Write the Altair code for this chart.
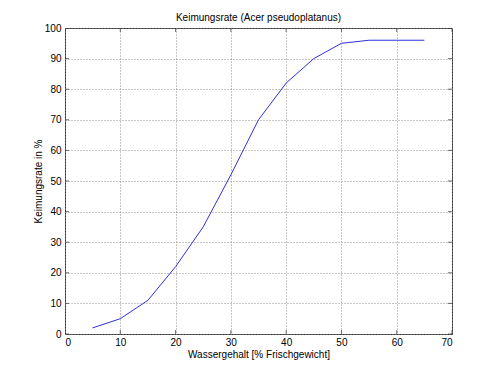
import altair as alt
import pandas as pd

wasser = [5, 10, 15, 20, 25, 30, 35, 40, 45, 50, 55, 60, 65]
keimung = [2, 5, 11, 22, 35, 52, 70, 82, 90, 95, 96, 96, 96]
x_ticks = [0, 10, 20, 30, 40, 50, 60, 70]
y_ticks = [0, 10, 20, 30, 40, 50, 60, 70, 80, 90, 100]

df = pd.DataFrame({"x": wasser, "y": keimung})
xt = pd.DataFrame({"x": x_ticks})
yt = pd.DataFrame({"y": y_ticks})

FONT = "Liberation Sans"
W, H = 387, 306

xscale = alt.Scale(domain=[0, 70], nice=False)
yscale = alt.Scale(domain=[0, 100], nice=False)

xaxis = alt.Axis(values=x_ticks, title="Wassergehalt [% Frischgewicht]",
                 grid=True, gridDash=[1, 2], gridColor="#8c8c8c", gridOpacity=1,
                 domain=False, ticks=False, labelPadding=3, titlePadding=2,
                 labelFont=FONT, titleFont=FONT, labelFontSize=10, titleFontSize=10,
                 titleFontWeight="normal", labelColor="#000", titleColor="#000")
yaxis = alt.Axis(values=y_ticks, title="Keimungsrate in %",
                 grid=True, gridDash=[1, 2], gridColor="#8c8c8c", gridOpacity=1,
                 domain=False, ticks=False, labelPadding=4, titlePadding=1,
                 labelFont=FONT, titleFont=FONT, labelFontSize=10, titleFontSize=10,
                 titleFontWeight="normal", labelColor="#000", titleColor="#000")

line = alt.Chart(df).mark_line(color="#3030e0", strokeWidth=1, clip=True).encode(
    x=alt.X("x:Q", scale=xscale, axis=xaxis),
    y=alt.Y("y:Q", scale=yscale, axis=yaxis),
)

tick_color = "#333333"
xt_bottom = alt.Chart(xt).mark_tick(orient="vertical", size=8, thickness=1, color=tick_color, clip=True).encode(
    x=alt.X("x:Q", scale=xscale, axis=xaxis), y=alt.value(H))
xt_top = alt.Chart(xt).mark_tick(orient="vertical", size=8, thickness=1, color=tick_color, clip=True).encode(
    x=alt.X("x:Q", scale=xscale, axis=xaxis), y=alt.value(0))
yt_left = alt.Chart(yt).mark_tick(orient="horizontal", size=8, thickness=1, color=tick_color, clip=True).encode(
    y=alt.Y("y:Q", scale=yscale, axis=yaxis), x=alt.value(0))
yt_right = alt.Chart(yt).mark_tick(orient="horizontal", size=8, thickness=1, color=tick_color, clip=True).encode(
    y=alt.Y("y:Q", scale=yscale, axis=yaxis), x=alt.value(W))

chart = alt.layer(line, xt_bottom, xt_top, yt_left, yt_right).properties(
    width=W, height=H,
    background="white",
    title=alt.TitleParams("Keimungsrate (Acer pseudoplatanus)", font=FONT, fontSize=10,
                          fontWeight="normal", color="#000", offset=0),
    autosize=alt.AutoSizeParams(type="none"),
    padding={"left": 57, "top": 20, "right": 40, "bottom": 35},
).configure_view(stroke="#333333", strokeWidth=1)

chart.save("out.html", embed_options={"renderer": "svg", "actions": False})
